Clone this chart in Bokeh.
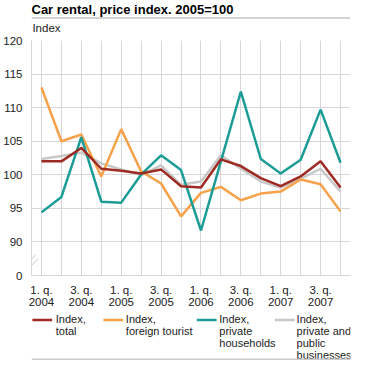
from bokeh.plotting import figure
from bokeh.layouts import column
from bokeh.models import FixedTicker, Range1d
from bokeh.core.properties import value
from bokeh.embed import file_html
from bokeh.resources import INLINE

# ---- data ----
quarters = list(range(16))
x_tick_labels = ["1. q.\n2004", "", "3. q.\n2004", "", "1. q.\n2005", "", "3. q.\n2005", "",
                 "1. q.\n2006", "", "3. q.\n2006", "", "1. q.\n2007", "", "3. q.\n2007", ""]
y_ticks = [85, 90, 95, 100, 105, 110, 115, 120]
y_tick_labels = ["0", "90", "95", "100", "105", "110", "115", "120"]

index_total = [102.0, 102.0, 104.0, 100.9, 100.6, 100.2, 100.8, 98.3,
               98.1, 102.3, 101.3, 99.5, 98.3, 99.75, 102.0, 98.1]
foreign_tourist = [113.0, 105.0, 106.0, 99.75, 106.8, 100.5, 98.7, 93.8,
                   97.3, 98.2, 96.2, 97.2, 97.5, 99.3, 98.6, 94.55]
private_households = [94.4, 96.7, 105.6, 96.0, 95.85, 100.05, 102.9, 100.7,
                      91.7, 102.0, 112.4, 102.35, 100.2, 102.25, 109.7, 101.8]
businesses = [102.35, 102.8, 103.3, 101.7, 100.8, 99.95, 101.4, 98.5,
              99.0, 102.9, 100.9, 99.0, 98.1, 99.4, 100.9, 97.5]

series_names = ["Index,\ntotal", "Index,\nforeign tourist", "Index,\nprivate\nhouseholds",
                "Index,\nprivate and\npublic\nbusinesses"]
series_colors = ["#9e2a24", "#f7a24a", "#1c9c96", "#c8c8c8"]

title_text = "Car rental, price index. 2005=100"
y_caption = "Index"

FONT = "Liberation Sans"
SMALL = "11.5px"
TEXT_COLOR = "#222222"
W, H = 355, 360


def blank_figure(height):
    f = figure(width=W, height=height, output_backend="svg", toolbar_location=None,
               x_range=Range1d(0, W), y_range=Range1d(height, 0),
               x_axis_location=None, y_axis_location=None, min_border=0)
    f.grid.visible = False
    f.outline_line_color = None
    return f


# ---- header ----
HH = 34
head = blank_figure(HH)
head.text(x=[0], y=[1], text=[title_text], text_font=value(FONT), text_font_size="13px",
          text_font_style="bold", text_baseline="top", text_align="left", text_color="#000000")
head.quad(left=[0], right=[W], top=[17], bottom=[18], fill_color="#aaaaaa", line_color=None)
head.text(x=[1], y=[21], text=[y_caption], text_font=value(FONT), text_font_size=SMALL,
          text_baseline="top", text_align="left", text_color=TEXT_COLOR)

# ---- main chart ----
BL, BR, BT, BB = 25, 5, 6, 34
FH = 236
MH = BT + FH + BB
p = figure(width=W, height=MH, output_backend="svg", toolbar_location=None,
           x_range=Range1d(-0.5, 15.5), y_range=Range1d(85, 120),
           min_border_left=BL, min_border_right=BR, min_border_top=BT, min_border_bottom=BB)
p.outline_line_color = None

grid_color = "#d6d6dc"
p.xaxis.ticker = FixedTicker(ticks=quarters)
p.xaxis.major_label_overrides = {q: lab for q, lab in zip(quarters, x_tick_labels)}
p.yaxis.ticker = FixedTicker(ticks=y_ticks)
p.yaxis.major_label_overrides = {t: lab for t, lab in zip(y_ticks, y_tick_labels)}
for ax in (p.xaxis[0], p.yaxis[0]):
    ax.axis_line_color = grid_color
    ax.axis_line_width = 1
    ax.major_tick_line_color = None
    ax.minor_tick_line_color = None
    ax.major_label_text_font = FONT
    ax.major_label_text_font_size = SMALL
    ax.major_label_text_color = TEXT_COLOR
    ax.major_label_standoff = 3
p.xaxis.major_label_standoff = 2
p.xaxis.major_label_text_line_height = 1.0
p.xgrid.ticker = FixedTicker(ticks=quarters)
p.ygrid.ticker = FixedTicker(ticks=y_ticks[1:])
p.xgrid.grid_line_color = grid_color
p.ygrid.grid_line_color = grid_color

# axis break marks (decoration near the axis)
p.segment(x0=[-0.74, -0.60], y0=[86.75, 86.2], x1=[-0.30, -0.17], y1=[88.05, 87.5],
          line_color="#c8c8c8", line_width=1)

all_series = [index_total, foreign_tourist, private_households, businesses]
for i in [3, 1, 2, 0]:
    p.line(quarters, all_series[i], line_color=series_colors[i], line_width=2.5)

# ---- legend ----
LH = H - HH - MH
leg = blank_figure(LH)
leg_line_x = [1, 80, 184, 271]
leg_text_x = [27, 105, 209, 295]
leg.segment(x0=leg_line_x, y0=[9.5] * 4, x1=[v + 22 for v in leg_line_x], y1=[9.5] * 4,
            line_color=series_colors, line_width=2.5)
leg.text(x=leg_text_x, y=[2] * 4, text=series_names, text_font=value(FONT),
         text_font_size="11px", text_line_height=1.0, text_baseline="top", text_align="left",
         text_color=TEXT_COLOR)
leg.quad(left=[0], right=[W], top=[LH - 2], bottom=[LH], fill_color="#cccccc", line_color=None)

layout = column(head, p, leg, spacing=0)
open("out.html", "w").write(file_html(layout, INLINE))
